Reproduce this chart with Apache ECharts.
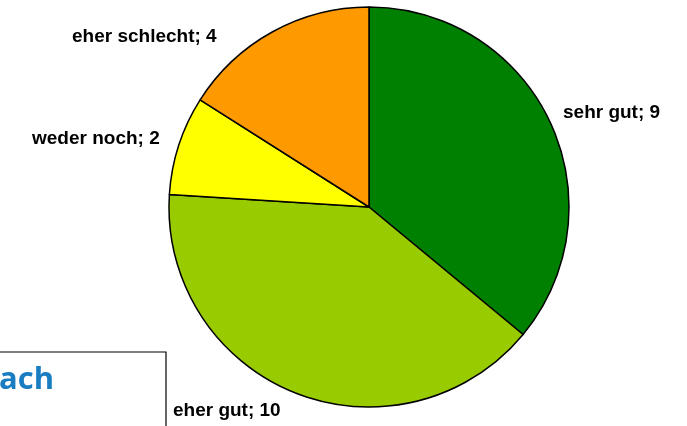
<!DOCTYPE html>
<html>
<head>
<meta charset="utf-8">
<script src="https://cdn.jsdelivr.net/npm/echarts@6/dist/echarts.min.js"></script>
<style>
  html, body { margin: 0; padding: 0; background: #fff; }
  #chart { width: 687px; height: 426px; }
</style>
</head>
<body>
<div id="chart"></div>
<script>
// Bewertung – Anteile
const categories = ['sehr gut', 'eher gut', 'weder noch', 'eher schlecht'];
const values = [9, 10, 2, 4];
const colors = ['#008000', '#99cc00', '#ffff00', '#ff9900'];

// where each label sits (label anchor, left/top)
const labelPos = {
    'sehr gut': [563, 103],
    'eher gut': [173, 401],
    'weder noch': [32, 129],
    'eher schlecht': [72, 27.5]
};

let myChart = echarts.init(document.getElementById('chart'));
let option = {
    backgroundColor: '#fff',
    animation: false,
    graphic: [
        {
            type: 'rect',
            shape: { x: -2, y: 352, width: 168, height: 90 },
            style: { fill: '#fff', stroke: '#000', lineWidth: 1.2 },
            z: 1
        },
        {
            type: 'text',
            left: -1, top: 365,
            style: {
                text: 'ach',
                fill: '#1b7dc1',
                font: 'bold 31px "Open Sans", sans-serif'
            },
            z: 2
        }
    ],
    series: [
        {
            type: 'pie',
            center: [369, 207],
            radius: 200,
            startAngle: 90,
            clockwise: true,
            itemStyle: { borderColor: '#000', borderWidth: 1.5 },
            label: {
                show: true,
                position: 'outside',
                formatter: '{b}; {c}',
                color: '#000',
                fontWeight: 'bold',
                fontSize: 19,
                lineHeight: 19,
                overflow: 'none',
                fontFamily: 'Liberation Sans, Arial, sans-serif'
            },
            labelLine: { show: false },
            labelLayout: function (params) {
                let p = labelPos[categories[params.dataIndex]];
                return { x: p[0], y: p[1], align: 'left', verticalAlign: 'top' };
            },
            emphasis: { disabled: true },
            data: categories.map((c, i) => ({
                name: c,
                value: values[i],
                itemStyle: { color: colors[i] }
            }))
        }
    ]
};
myChart.setOption(option);
</script>
</body>
</html>
